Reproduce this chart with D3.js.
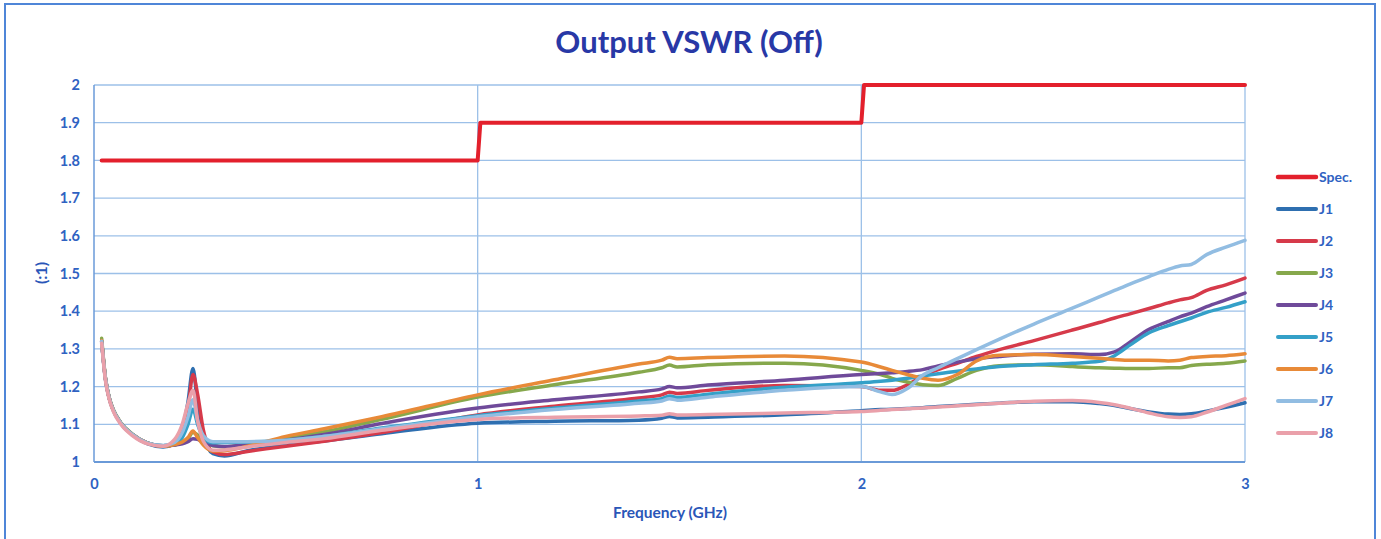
<!DOCTYPE html>
<html>
<head>
<meta charset="utf-8">
<script src="https://cdn.jsdelivr.net/npm/d3@7"></script>
<style>
  html, body { margin: 0; padding: 0; background: #fff; }
  svg { display: block; }
  text { font-family: Lato, "Open Sans", sans-serif; }
</style>
</head>
<body>
<svg id="chart" width="1381" height="539"></svg>
<script>
// ---------- data ----------
const title = "Output VSWR (Off)";
const xTitle = "Frequency (GHz)";
const yTitle = "(:1)";
const xTicks = [0, 1, 2, 3];
const yTicks = [1, 1.1, 1.2, 1.3, 1.4, 1.5, 1.6, 1.7, 1.8, 1.9, 2];

const specFreq = [0.02, 1.0, 1.007, 2.0, 2.007, 3.0];
const specVal  = [1.8, 1.8, 1.9, 1.9, 2.0, 2.0];

const freq = [0.02, 0.03, 0.04, 0.05, 0.07, 0.1, 0.14, 0.18,
  0.21, 0.23, 0.245, 0.258, 0.27, 0.285, 0.31, 0.34, 0.4,
  0.5, 0.6, 0.75, 1.0,
  1.2, 1.42, 1.48, 1.5, 1.52, 1.6, 1.8,
  2.0, 2.05, 2.08, 2.12, 2.16, 2.2, 2.25, 2.3, 2.36, 2.45, 2.55, 2.62, 2.66, 2.7, 2.75, 2.8, 2.83, 2.86, 2.9, 2.95, 3.0];

const J1 = [1.318, 1.218, 1.168, 1.138, 1.102, 1.072, 1.048, 1.04,
  1.047, 1.085, 1.16, 1.248, 1.15, 1.07, 1.022, 1.016, 1.03,
  1.045, 1.056, 1.075, 1.103,
  1.108, 1.111, 1.116, 1.121, 1.117, 1.119, 1.125,
  1.136, 1.139, 1.14, 1.142, 1.144, 1.147, 1.15, 1.153, 1.156, 1.16, 1.16, 1.155, 1.15, 1.142, 1.133, 1.127, 1.126, 1.128, 1.135, 1.145, 1.157];

const J2 = [1.32, 1.22, 1.168, 1.138, 1.103, 1.073, 1.05, 1.042,
  1.045, 1.075, 1.14, 1.232, 1.18, 1.085, 1.027, 1.02, 1.028,
  1.042, 1.055, 1.078, 1.125,
  1.148, 1.17, 1.178, 1.185, 1.182, 1.19, 1.203,
  1.2, 1.19, 1.19, 1.205, 1.228, 1.245, 1.262, 1.28, 1.298, 1.322, 1.35, 1.37, 1.382, 1.393, 1.407, 1.422, 1.43, 1.436, 1.455, 1.47, 1.488];

const J3 = [1.328, 1.222, 1.17, 1.14, 1.104, 1.074, 1.05, 1.043,
  1.045, 1.052, 1.062, 1.078, 1.072, 1.058, 1.043, 1.04, 1.047,
  1.062, 1.08, 1.113, 1.172,
  1.205, 1.238, 1.25, 1.257, 1.252, 1.258, 1.262,
  1.243, 1.232, 1.222, 1.212, 1.205, 1.203, 1.222, 1.243, 1.255, 1.258, 1.253, 1.25, 1.249, 1.248, 1.248, 1.25, 1.25, 1.256, 1.259, 1.262, 1.268];

const J4 = [1.32, 1.22, 1.168, 1.138, 1.103, 1.073, 1.05, 1.043,
  1.045, 1.048, 1.054, 1.062, 1.06, 1.052, 1.044, 1.041, 1.046,
  1.058, 1.073, 1.102, 1.143,
  1.165, 1.186, 1.194, 1.2, 1.197, 1.204, 1.217,
  1.232, 1.235, 1.237, 1.24, 1.245, 1.255, 1.265, 1.274, 1.28, 1.286, 1.287, 1.285, 1.292, 1.318, 1.352, 1.373, 1.385, 1.395, 1.412, 1.43, 1.448];

const J5 = [1.32, 1.22, 1.168, 1.138, 1.103, 1.073, 1.05, 1.043,
  1.047, 1.065, 1.1, 1.14, 1.1, 1.065, 1.051, 1.052, 1.053,
  1.057, 1.068, 1.09, 1.123,
  1.143, 1.162, 1.168, 1.175, 1.171, 1.18, 1.198,
  1.21, 1.214, 1.217, 1.222, 1.228, 1.234, 1.241, 1.247, 1.253, 1.258, 1.262, 1.267, 1.282, 1.31, 1.343, 1.362, 1.372, 1.382, 1.397, 1.41, 1.425];

const J6 = [1.322, 1.22, 1.168, 1.138, 1.103, 1.073, 1.05, 1.042,
  1.046, 1.053, 1.065, 1.082, 1.065, 1.045, 1.029, 1.03, 1.042,
  1.068, 1.088, 1.12, 1.178,
  1.218, 1.26, 1.27, 1.278, 1.274, 1.277, 1.281,
  1.265, 1.252, 1.243, 1.232, 1.222, 1.217, 1.232, 1.268, 1.283, 1.285, 1.28, 1.275, 1.272, 1.27, 1.27, 1.268, 1.27, 1.277, 1.28, 1.282, 1.287];

const J7 = [1.32, 1.22, 1.168, 1.138, 1.103, 1.073, 1.05, 1.044,
  1.052, 1.078, 1.12, 1.165, 1.11, 1.07, 1.054, 1.054, 1.054,
  1.058, 1.068, 1.088, 1.12,
  1.139, 1.156, 1.162, 1.168, 1.164, 1.172, 1.19,
  1.2, 1.186, 1.179, 1.195, 1.23, 1.25, 1.274, 1.298, 1.326, 1.366, 1.408, 1.438, 1.455, 1.472, 1.492, 1.511, 1.52, 1.524, 1.55, 1.57, 1.588];

const J8 = [1.315, 1.215, 1.165, 1.135, 1.1, 1.07, 1.048, 1.042,
  1.06, 1.1, 1.155, 1.19, 1.11, 1.055, 1.031, 1.032, 1.04,
  1.052, 1.062, 1.084, 1.113,
  1.119, 1.122, 1.124, 1.128, 1.125, 1.126, 1.13,
  1.134, 1.137, 1.139, 1.141, 1.143, 1.146, 1.149, 1.152, 1.156, 1.161, 1.163, 1.158, 1.152, 1.143, 1.13, 1.12, 1.118, 1.12, 1.132, 1.15, 1.168];

const seriesNames = ["J1", "J2", "J3", "J4", "J5", "J6", "J7", "J8"];
const seriesValues = [J1, J2, J3, J4, J5, J6, J7, J8];
const seriesColors = ["#2e6fb0", "#d63a4a", "#86a84c", "#6f4a9a", "#34a0c8", "#e88a38", "#92bde2", "#eaa0aa"];
const specColor = "#e3202c";

// ---------- drawing ----------
const svg = d3.select("#chart");
const W = 1381, H = 539;
const plot = { left: 94, right: 1245, top: 85, bottom: 462 };

svg.append("rect").attr("width", W).attr("height", H).attr("fill", "#fff");
// outer frame
svg.append("rect")
  .attr("x", 5).attr("y", 4).attr("width", 1370).attr("height", 560)
  .attr("fill", "none").attr("stroke", "#4f86d8").attr("stroke-width", 2);

const x = d3.scaleLinear().domain([0, 3]).range([plot.left, plot.right]);
const y = d3.scaleLinear().domain([1, 2]).range([plot.bottom, plot.top]);

// grid
const grid = svg.append("g");
grid.selectAll("line.h").data(yTicks.slice(1)).join("line")
  .attr("x1", plot.left).attr("x2", plot.right)
  .attr("y1", d => y(d)).attr("y2", d => y(d))
  .attr("stroke", "#9cc0e8").attr("stroke-width", 1.3);
grid.selectAll("line.v").data(xTicks.slice(1)).join("line")
  .attr("y1", plot.top).attr("y2", plot.bottom)
  .attr("x1", d => x(d)).attr("x2", d => x(d))
  .attr("stroke", "#9cc0e8").attr("stroke-width", 1.3);

// axis lines
svg.append("line").attr("x1", plot.left).attr("x2", plot.left)
  .attr("y1", plot.top).attr("y2", plot.bottom)
  .attr("stroke", "#6a9ad8").attr("stroke-width", 1.5);
svg.append("line").attr("x1", plot.left).attr("x2", plot.right)
  .attr("y1", plot.bottom).attr("y2", plot.bottom)
  .attr("stroke", "#6a9ad8").attr("stroke-width", 2);

const tickColor = "#2f62c2";
const yAxis = svg.append("g").attr("transform", `translate(${plot.left},0)`)
  .call(d3.axisLeft(y).tickValues(yTicks).tickSize(0).tickPadding(14)
    .tickFormat(d => String(+d.toFixed(1))));
yAxis.select(".domain").remove();
yAxis.selectAll("text").attr("fill", tickColor).attr("font-size", 14.5).attr("font-weight", "bold")
  .style("font-family", "Lato, 'Open Sans', sans-serif");

const xAxis = svg.append("g").attr("transform", `translate(0,${plot.bottom})`)
  .call(d3.axisBottom(x).tickValues(xTicks).tickSize(0).tickPadding(17)
    .tickFormat(d3.format("d")));
xAxis.select(".domain").remove();
xAxis.selectAll("text").attr("fill", tickColor).attr("font-size", 14.5).attr("font-weight", "bold")
  .style("font-family", "Lato, 'Open Sans', sans-serif");

// titles
svg.append("text").attr("x", 689).attr("y", 53).attr("text-anchor", "middle")
  .attr("font-size", 31).attr("font-weight", "bold").attr("fill", "#2838a6").text(title);
svg.append("text").attr("x", 670).attr("y", 518).attr("text-anchor", "middle")
  .attr("font-size", 15.5).attr("font-weight", "bold").attr("fill", "#2a56b8").text(xTitle);
svg.append("text").attr("transform", "translate(47,273) rotate(-90)").attr("text-anchor", "middle")
  .attr("font-size", 16).attr("font-weight", "bold").attr("fill", "#2a56b8").text(yTitle);

// lines
const line = d3.line().x(d => x(d[0])).y(d => y(d[1])).curve(d3.curveMonotoneX);
const gLines = svg.append("g").attr("fill", "none").attr("stroke-linecap", "round").attr("stroke-linejoin", "round");
seriesValues.forEach((vals, i) => {
  gLines.append("path")
    .attr("d", line(freq.map((f, k) => [f, vals[k]])))
    .attr("stroke", seriesColors[i]).attr("stroke-width", 3.5);
});
const specLine = d3.line().x(d => x(d[0])).y(d => y(d[1]));
gLines.append("path")
  .attr("d", specLine(specFreq.map((f, k) => [f, specVal[k]])))
  .attr("stroke", specColor).attr("stroke-width", 4);

// legend
const legendItems = [{ name: "Spec.", color: specColor, w: 4.5 }]
  .concat(seriesNames.map((n, i) => ({ name: n, color: seriesColors[i], w: 4 })));
const lg = svg.append("g");
legendItems.forEach((it, i) => {
  const yy = 177 + i * 32;
  lg.append("line").attr("x1", 1278).attr("x2", 1316).attr("y1", yy).attr("y2", yy)
    .attr("stroke", it.color).attr("stroke-width", it.w).attr("stroke-linecap", "round");
  lg.append("text").attr("x", 1319).attr("y", yy).attr("dy", "0.35em")
    .attr("font-size", 14).attr("font-weight", "bold").attr("fill", tickColor).text(it.name);
});
</script>
</body>
</html>
